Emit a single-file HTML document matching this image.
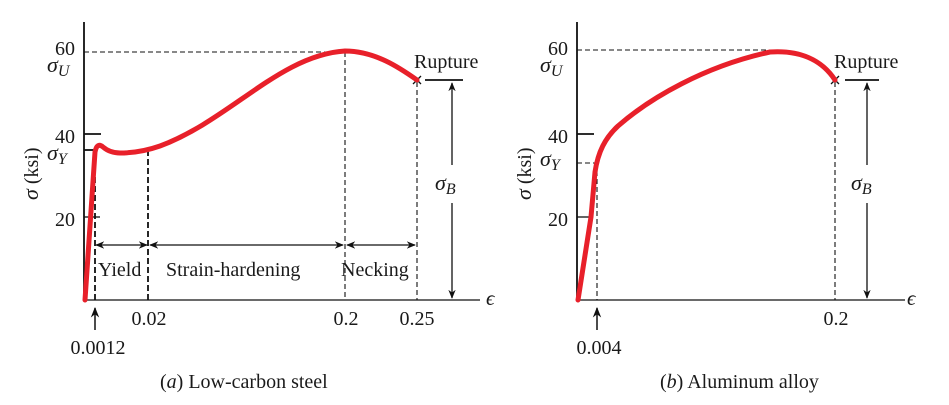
<!DOCTYPE html>
<html><head><meta charset="utf-8"><style>
body{margin:0;background:#fff}
svg text{font-family:"Liberation Serif",serif;fill:#1a1a1a}
</style></head><body>
<svg width="949" height="400" viewBox="0 0 949 400" xmlns="http://www.w3.org/2000/svg">
<defs><marker id="a" viewBox="0 0 10 10" refX="9" refY="5" markerWidth="7" markerHeight="7" orient="auto-start-reverse"><path d="M0,1 L10,5 L0,9 L3,5z" fill="#111"/></marker></defs>
<g stroke="#111" fill="none">
<line x1="84" y1="22" x2="84" y2="300" stroke-width="1.8"/>
<line x1="84" y1="300" x2="480" y2="300" stroke-width="1.3"/>
<line x1="84" y1="134" x2="101" y2="134" stroke-width="1.8"/>
<line x1="84" y1="217" x2="100" y2="217" stroke-width="1.3"/>
<line x1="84" y1="150" x2="96" y2="150" stroke-width="1.8"/>
<g stroke-dasharray="5,3" stroke-width="1.1">
<line x1="84" y1="52" x2="345" y2="52"/>
<line x1="345" y1="52" x2="345" y2="300"/>
<line x1="417" y1="82" x2="417" y2="300"/>
</g>
<g stroke-dasharray="6,3" stroke-width="1.8">
<line x1="95" y1="150" x2="95" y2="300"/>
<line x1="148" y1="150" x2="148" y2="300"/>
</g>
<g stroke-width="1.3" marker-start="url(#a)" marker-end="url(#a)">
<line x1="96" y1="245" x2="147" y2="245"/>
<line x1="150" y1="245" x2="343" y2="245"/>
<line x1="347" y1="245" x2="415" y2="245"/>
</g>
<line x1="452" y1="165" x2="452" y2="83" stroke-width="1.3" marker-end="url(#a)"/>
<line x1="452" y1="203" x2="452" y2="298" stroke-width="1.3" marker-end="url(#a)"/>
<line x1="425" y1="80" x2="463" y2="80" stroke-width="1.8"/>
<line x1="95" y1="330" x2="95" y2="308" stroke-width="1.5" marker-end="url(#a)"/>
<path d="M413,76 L421,84 M421,76 L413,84" stroke-width="1.3"/>
<path d="M85,300 L95,152 Q97,142 103,147 Q110,153 120,153 Q140,153 160,146 C230,120 280,55 345,51 C375,51 400,68 417,80" stroke="#e8202a" stroke-width="5" stroke-linecap="round"/>
<line x1="577" y1="22" x2="577" y2="300" stroke-width="1.8"/>
<line x1="577" y1="300" x2="905" y2="300" stroke-width="1.3"/>
<line x1="577" y1="134" x2="594" y2="134" stroke-width="1.8"/>
<line x1="577" y1="217" x2="593" y2="217" stroke-width="1.3"/>
<g stroke-dasharray="5,3" stroke-width="1.1">
<line x1="577" y1="50" x2="770" y2="50"/>
<line x1="577" y1="163" x2="597" y2="163"/>
<line x1="597" y1="163" x2="597" y2="300"/>
<line x1="835" y1="82" x2="835" y2="300"/>
</g>
<line x1="867" y1="165" x2="867" y2="83" stroke-width="1.3" marker-end="url(#a)"/>
<line x1="867" y1="203" x2="867" y2="298" stroke-width="1.3" marker-end="url(#a)"/>
<line x1="845" y1="80" x2="879" y2="80" stroke-width="1.8"/>
<line x1="597" y1="330" x2="597" y2="308" stroke-width="1.5" marker-end="url(#a)"/>
<path d="M831,76 L839,84 M839,76 L831,84" stroke-width="1.3"/>
<path d="M578,300 L591,217 L595,172 C598,152 605,138 618,126 C650,98 705,66 770,52 C800,50 822,60 835,80" stroke="#e8202a" stroke-width="5" stroke-linecap="round"/>
</g>
<g font-size="20">
<text x="75" y="55" text-anchor="end">60</text>
<text x="75" y="143" text-anchor="end">40</text>
<text x="75" y="226" text-anchor="end">20</text>
<text x="47" y="72" font-style="italic" font-size="22">σ<tspan font-size="16" dy="4">U</tspan></text>
<text x="47" y="160" font-style="italic" font-size="22">σ<tspan font-size="16" dy="4">Y</tspan></text>
<text transform="translate(38,200) rotate(-90)"><tspan font-style="italic" font-size="22">σ</tspan>  (ksi)</text>
<text x="414" y="68">Rupture</text>
<text x="435" y="190" font-style="italic" font-size="22">σ<tspan font-size="16" dy="4">B</tspan></text>
<text x="98" y="276">Yield</text>
<text x="166" y="276">Strain-hardening</text>
<text x="341" y="276">Necking</text>
<text x="149" y="325" text-anchor="middle">0.02</text>
<text x="346" y="325" text-anchor="middle">0.2</text>
<text x="417" y="325" text-anchor="middle">0.25</text>
<text x="98" y="354" text-anchor="middle">0.0012</text>
<text x="486" y="305" font-style="italic" font-size="21">ϵ</text>
<text x="160" y="388">(<tspan font-style="italic">a</tspan>) Low-carbon steel</text>
<text x="568" y="55" text-anchor="end">60</text>
<text x="568" y="143" text-anchor="end">40</text>
<text x="568" y="226" text-anchor="end">20</text>
<text x="540" y="72" font-style="italic" font-size="22">σ<tspan font-size="16" dy="4">U</tspan></text>
<text x="540" y="166" font-style="italic" font-size="22">σ<tspan font-size="16" dy="4">Y</tspan></text>
<text transform="translate(531,200) rotate(-90)"><tspan font-style="italic" font-size="22">σ</tspan>  (ksi)</text>
<text x="834" y="68">Rupture</text>
<text x="851" y="190" font-style="italic" font-size="22">σ<tspan font-size="16" dy="4">B</tspan></text>
<text x="836" y="325" text-anchor="middle">0.2</text>
<text x="599" y="354" text-anchor="middle">0.004</text>
<text x="907" y="305" font-style="italic" font-size="21">ϵ</text>
<text x="660" y="388">(<tspan font-style="italic">b</tspan>) Aluminum alloy</text>
</g>
</svg>
</body></html>
